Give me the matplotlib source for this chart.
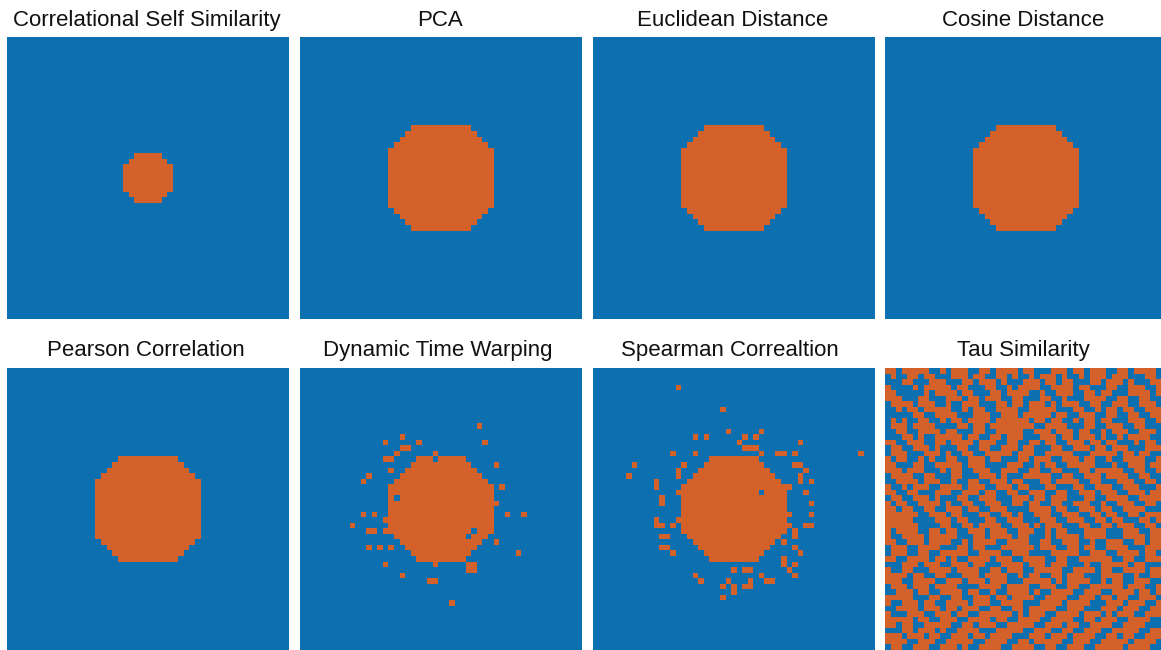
import numpy as np
import matplotlib
matplotlib.use("Agg")
import matplotlib.pyplot as plt
from matplotlib.colors import ListedColormap

plt.rcParams["font.family"] = ["Liberation Sans", "DejaVu Sans"]

GRID = 51
CENTER = 25
BLUE = "#0b6fb0"
ORANGE = "#d4612a"

titles = [
    "Correlational Self Similarity", "PCA", "Euclidean Distance", "Cosine Distance",
    "Pearson Correlation", "Dynamic Time Warping", "Spearman Correaltion", "Tau Similarity",
]

# half-widths (cells either side of the centre column) for each row of a blob,
# listed from the top row of the blob to the bottom row
small_blob = [2, 3, 4, 4, 4, 4, 4, 3, 2]
octagon_blob = [5, 6, 7, 8, 9, 9, 9, 9, 9, 9, 9, 9, 9, 9, 9, 8, 7, 6, 5]
round_blob = [4, 5, 6, 7, 8, 9, 9, 9, 9, 9, 9, 9, 9, 9, 8, 7, 6, 5, 4]

# stray matches (row, col) and holes inside the blob
dtw_extra = [(10, 32), (12, 18), (13, 15), (13, 21), (13, 33), (14, 18), (14, 19),
             (15, 17), (15, 24), (16, 15), (16, 16), (18, 16), (17, 35), (19, 12),
             (20, 11), (21, 36), (24, 35), (26, 11), (26, 13), (26, 37), (26, 40),
             (28, 9), (27, 15), (29, 12), (29, 13), (29, 15), (32, 12), (32, 14),
             (32, 16), (31, 35), (33, 39), (35, 15), (35, 24), (35, 30), (35, 31),
             (36, 30), (36, 31), (37, 18), (38, 23), (38, 24), (42, 27)]
dtw_holes = [(16, 24), (23, 17), (30, 30), (29, 31)]

spearman_extra = [(3, 15), (7, 23), (11, 24), (11, 30), (12, 29), (12, 18), (12, 20),
                  (12, 27), (13, 26), (13, 37), (14, 27), (14, 28), (14, 29), (15, 14),
                  (15, 18), (15, 30), (15, 33), (15, 34), (15, 36), (15, 48), (17, 7),
                  (19, 6), (17, 16), (18, 15), (19, 15), (17, 36), (17, 37), (18, 38),
                  (19, 37), (20, 37), (20, 39), (20, 11), (21, 11), (22, 15), (21, 35),
                  (22, 38), (23, 12), (24, 12), (24, 39), (26, 39), (26, 35), (27, 15),
                  (27, 11), (28, 11), (28, 12), (28, 14), (28, 38), (28, 39), (28, 35),
                  (29, 36), (30, 36), (30, 12), (30, 13), (31, 34), (32, 12), (32, 13),
                  (33, 14), (32, 36), (33, 37), (34, 34), (35, 34), (36, 35), (35, 36),
                  (37, 36), (36, 25), (36, 27), (36, 28), (37, 18), (38, 19), (37, 30),
                  (38, 31), (38, 32), (38, 24), (39, 23), (39, 25), (40, 25), (38, 28),
                  (39, 27), (39, 28), (41, 23)]
spearman_holes = [(22, 30)]

tau_rows = [
    "1101111100 1011100110 1111011000 1110110111 0011011110 1",
    "0100110110 0011101100 1101001011 1010010111 0111000110 0",
    "0001100011 1000110111 0100011101 1011000110 1110100011 1",
    "1000010111 1101100011 0010111100 1111011000 1100111001 1",
    "1100000101 1110110001 1011110010 0111001101 1000111101 0",
    "1110001100 0111011011 1001100011 0010001111 0011001100 1",
    "0111101110 0100111000 1101101110 1011100110 0111001110 1",
    "0010110111 1100101100 1111001111 1000110010 1101100111 0",
    "0000011001 1110001110 0111011111 0110011100 1100110011 0",
    "0101001100 1011011110 1111110110 1100101101 1000111001 1",
    "0111011110 0001101101 1111111001 1110001100 1110011000 1",
    "0011001111 0110001100 1111100111 0111011001 0111001110 1",
    "0001101001 1111011001 1011100011 1011011101 0010111100 0",
    "1100111001 1011110111 0011001101 1001110110 1100010110 1",
    "0110011101 0001100110 0111011000 1100111011 0111000111 1",
    "0111000111 0100110011 1110111001 1111000111 1101101100 1",
    "1011001010 0110011101 1000110111 0011101100 1001111001 1",
    "1100011001 1111011100 0011100101 1001111100 0100111011 0",
    "1110111000 1011001110 0111001100 1100011011 1110011001 1",
    "0111100110 0011000111 0100011111 0011001110 1111001100 1",
    "0011110111 0010011001 1101100011 0111100110 0011100110 1",
    "1001011100 1111011100 1110110001 1000110011 1001110001 0",
    "1100110001 1100111011 0011001110 0110011101 1100111011 0",
    "0110011101 0001100111 0001110110 1110001100 1111001111 1",
    "1011001111 0100110011 1001101100 1100111001 0011100110 1",
    "1101100110 0111011001 1100001111 0110011101 1001111000 1",
    "1111110011 1011000110 0110100111 0011100110 1100110111 0",
    "1111100001 1101100011 0011100011 1001110011 0110001101 1",
    "1111110000 1100110111 1001110101 1100011001 1011100110 1",
    "1011110011 0110011101 1100111001 0110001111 0001110011 0",
    "1001111011 1110001101 1110110001 0111101111 0001111011 1",
    "1100111011 1100101111 0011110011 0011100100 1110011011 1",
    "0111001111 0001101100 0111111011 1001101100 1111000111 0",
    "0111001100 1111100111 1001110000 1111100111 0011110110 1",
    "1100111101 1010011110 1110011110 0110011111 1001100111 1",
    "0001110111 0011101100 0111101110 1110001001 1111011000 1",
    "1001100011 1101111001 1011100111 1100111101 1001111011 0",
    "1111011001 1000111011 1100101100 1101110001 1110010011 1",
    "1110011110 0111011101 1100011111 0101111001 0110011100 1",
    "0111011101 1110000111 1011110011 1001100111 1110111001 1",
    "0011101100 1111011001 0011110100 1111001110 0111101101 0",
    "1111100011 0011001110 1101111001 1110011101 1011001110 1",
    "1001110110 0111101110 0111100011 1101111000 1110111001 1",
    "0011110111 0110111001 1001101111 1001110001 1101110011 0",
    "1000111001 1101100111 1110101110 0111101110 1011100111 1",
    "1111101100 1110011110 1100111100 1111001101 1100111100 1",
    "1101100111 1100110111 0011111001 1101100111 1001111000 1",
    "0001101110 1001111000 1111100111 0011001110 0111110011 1",
    "1110111011 0011101101 1110001110 1110111100 1101100111 0",
    "1111001110 0111110011 1100110111 1100111001 1111011110 0",
    "0110011100 1110100111 1001111001 1001110011 1110111100 1",
]


def blob(half_widths):
    grid = np.zeros((GRID, GRID), dtype=int)
    top = CENTER - len(half_widths) // 2
    for i, hw in enumerate(half_widths):
        grid[top + i, CENTER - hw:CENTER + hw + 1] = 1
    return grid


def with_noise(grid, extra, holes):
    grid = grid.copy()
    for r, c in extra:
        grid[r, c] = 1
    for r, c in holes:
        grid[r, c] = 0
    return grid


tau_cells = [row.replace(" ", "") for row in tau_rows]
for i, row in enumerate(tau_cells):
    assert len(row) == GRID, (i, len(row))
tau = np.array([[int(ch) for ch in row] for row in tau_cells])

panels = [
    blob(small_blob),
    blob(octagon_blob),
    blob(octagon_blob),
    blob(octagon_blob),
    blob(octagon_blob),
    with_noise(blob(round_blob), dtw_extra, dtw_holes),
    with_noise(blob(round_blob), spearman_extra, spearman_holes),
    tau,
]

W, H = 1161, 650
fig = plt.figure(figsize=(W / 100, H / 100), dpi=100)
fig.patch.set_facecolor("white")
cmap = ListedColormap([BLUE, ORANGE])

lefts = [7, 299.5, 592.5, 885]
tops = [37, 368]
size = 282
title_x = [[147, 440, 733, 1023], [146, 438, 730, 1023]]
title_base = [26, 356]

for k, (grid, title) in enumerate(zip(panels, titles)):
    r, c = divmod(k, 4)
    x0, y0 = lefts[c], tops[r]
    ax = fig.add_axes([x0 / W, 1 - (y0 + size) / H, size / W, size / H])
    ax.imshow(grid, cmap=cmap, vmin=0, vmax=1, interpolation="nearest", aspect="auto")
    ax.set_xticks([])
    ax.set_yticks([])
    for s in ax.spines.values():
        s.set_visible(False)
    fig.text(title_x[r][c] / W, 1 - title_base[r] / H, title, ha="center",
             va="baseline", fontsize=16, color="#111111")

fig.savefig("out.png", dpi=100)
